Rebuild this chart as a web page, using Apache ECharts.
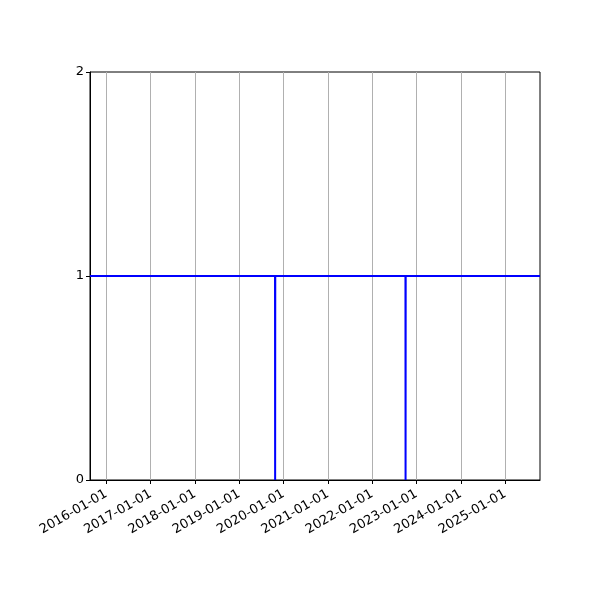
<!DOCTYPE html>
<html>
<head>
<meta charset="utf-8">
<script src="https://cdn.jsdelivr.net/npm/echarts@6/dist/echarts.min.js"></script>
<style>html,body{margin:0;padding:0;background:#fff;}#c{width:600px;height:600px;}</style>
</head>
<body>
<div id="c"></div>
<script>
const dates = ['2015-08-20','2019-10-23','2019-10-24','2019-10-25','2022-10-02','2022-10-03','2022-10-04','2025-10-15'];
const values = [1,1,0,1,1,0,1,1];
const tickLabels = ['2016-01-01','2017-01-01','2018-01-01','2019-01-01','2020-01-01','2021-01-01','2022-01-01','2023-01-01','2024-01-01','2025-01-01'];
const yTicks = [0,1,2];

const ts = s => Date.parse(s + 'T00:00:00Z');
const tickVals = tickLabels.map(ts);
const pad = n => (n < 10 ? '0' : '') + n;
const fmt = v => { const d = new Date(v); return d.getUTCFullYear() + '-' + pad(d.getUTCMonth()+1) + '-' + pad(d.getUTCDate()); };

const chart = echarts.init(document.getElementById('c'));
chart.setOption({
  animation: false,
  textStyle: {fontFamily: 'DejaVu Sans'},
  grid: {left: 90, right: 60, top: 72, bottom: 120, show: true, borderColor: '#000', borderWidth: 1, containLabel: false},
  xAxis: {
    type: 'value',
    min: ts(dates[0]),
    max: ts(dates[dates.length-1]),
    axisLine: {show: true, lineStyle: {color: '#000', width: 1}},
    axisTick: {show: true, inside: false, length: 4, lineStyle: {color: '#000'}, customValues: tickVals},
    axisLabel: {customValues: tickVals, formatter: v => fmt(v), rotate: 30, fontSize: 13, color: '#000', margin: 13, fontFamily: 'DejaVu Sans'},
    splitLine: {show: true, lineStyle: {color: '#b0b0b0', width: 1}}
  },
  yAxis: {
    type: 'value',
    min: yTicks[0],
    max: yTicks[yTicks.length-1],
    interval: 1,
    axisLine: {show: true, lineStyle: {color: '#000', width: 1}},
    axisTick: {show: true, inside: false, length: 4, lineStyle: {color: '#000'}},
    axisLabel: {fontSize: 13, color: '#000', margin: 6, fontFamily: 'DejaVu Sans'},
    splitLine: {show: false}
  },
  series: [{
    type: 'line',
    data: dates.map((d, i) => [ts(d), values[i]]),
    showSymbol: false,
    symbol: 'none',
    lineStyle: {color: '#0000ff', width: 2},
    clip: true
  }]
});
</script>
</body>
</html>
